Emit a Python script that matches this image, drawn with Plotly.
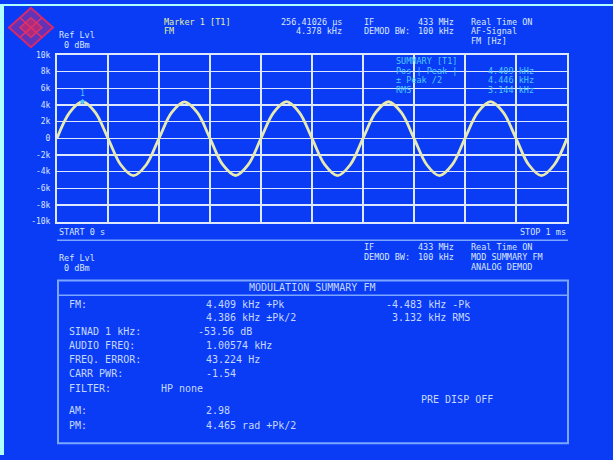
import plotly.graph_objects as go

time_ms = [0.000, 0.025, 0.050, 0.075, 0.100, 0.125, 0.150, 0.175,
           0.200, 0.225, 0.250, 0.275, 0.300, 0.325, 0.350, 0.375,
           0.400, 0.425, 0.450, 0.475, 0.500, 0.525, 0.550, 0.575,
           0.600, 0.625, 0.650, 0.675, 0.700, 0.725, 0.750, 0.775,
           0.800, 0.825, 0.850, 0.875, 0.900, 0.925, 0.950, 0.975, 1.000]
fm_khz = [0.0, 3.12, 4.41, 3.12, 0.0, -3.17, -4.48, -3.17,
          0.0, 3.10, 4.38, 3.10, 0.0, -3.17, -4.46, -3.16,
          0.0, 3.11, 4.40, 3.11, 0.0, -3.16, -4.47, -3.17,
          0.0, 3.10, 4.39, 3.10, 0.0, -3.17, -4.48, -3.16,
          0.0, 3.11, 4.40, 3.11, 0.0, -3.17, -4.47, -3.17, 0.0]
marker_time_ms = [0.05]
marker_fm_khz = [4.41]
marker_labels = ["1"]

y_tick_vals = [10, 8, 6, 4, 2, 0, -2, -4, -6, -8, -10]
y_tick_text = ["10k", "8k", "6k", "4k", "2k", "0", "-2k", "-4k", "-6k", "-8k", "-10k"]

# ---------------- layout helpers ----------------
W, H = 613, 460


def px(x):
    return x / W


def py(y):
    return 1 - y / H


BG = "#0b3cf5"
GRID = "#dde8ff"
TXT = "#d8e6ff"
BOXTXT = "#c4d8ff"
YEL = "#e2f0a0"
CYAN = "#4cc8ff"
BOXLINE = "#7aa6ff"
FONT = "DejaVu Sans Mono"
HS = 8.5   # header font size
BS = 10    # box font size

fig = go.Figure()
fig.add_trace(go.Scatter(
    x=time_ms, y=fm_khz, mode="lines",
    line=dict(color="#e6eab0", width=2.8, shape="spline", smoothing=1.0),
    hoverinfo="skip", showlegend=False))
fig.add_trace(go.Scatter(
    x=marker_time_ms, y=marker_fm_khz, mode="markers+text",
    text=marker_labels, textposition="top center",
    textfont=dict(family=FONT, size=8, color=CYAN),
    marker=dict(symbol="diamond", size=4, color=CYAN),
    hoverinfo="skip", showlegend=False))

texts = [
    # header
    (58, 32, "Ref Lvl", "left", TXT, HS),
    (58, 42, " 0 dBm", "left", TXT, HS),
    (163, 18, "Marker 1 [T1]", "left", YEL, HS),
    (163, 28, "FM", "left", YEL, HS),
    (343, 18, "256.41026 µs", "right", TXT, HS),
    (343, 28, "4.378 kHz", "right", TXT, HS),
    (363, 18, "IF", "left", TXT, HS),
    (363, 28, "DEMOD BW:", "left", TXT, HS),
    (455, 18, "433 MHz", "right", TXT, HS),
    (455, 28, "100 kHz", "right", TXT, HS),
    (470, 18, "Real Time ON", "left", TXT, HS),
    (470, 28, "AF-Signal", "left", TXT, HS),
    (470, 38, "FM [Hz]", "left", TXT, HS),
    # summary inside plot
    (395, 58, "SUMMARY [T1]", "left", CYAN, HS),
    (395, 68, "Pos | Peak |", "left", CYAN, HS),
    (395, 78, "± Peak /2", "left", CYAN, HS),
    (395, 88, "RMS", "left", CYAN, HS),
    (487, 68, "4.409 kHz", "left", CYAN, HS),
    (487, 78, "4.446 kHz", "left", CYAN, HS),
    (487, 88, "3.144 kHz", "left", CYAN, HS),
    # below plot
    (58, 233, "START 0 s", "left", TXT, HS),
    (567, 233, "STOP 1 ms", "right", TXT, HS),
    (58, 259, "Ref Lvl", "left", TXT, HS),
    (58, 269, " 0 dBm", "left", TXT, HS),
    (363, 248, "IF", "left", TXT, HS),
    (363, 258, "DEMOD BW:", "left", TXT, HS),
    (455, 248, "433 MHz", "right", TXT, HS),
    (455, 258, "100 kHz", "right", TXT, HS),
    (470, 248, "Real Time ON", "left", TXT, HS),
    (470, 258, "MOD SUMMARY FM", "left", TXT, HS),
    (470, 268, "ANALOG DEMOD", "left", TXT, HS),
    # modulation summary box
    (312, 289, "MODULATION SUMMARY FM", "center", BOXTXT, BS),
    (68, 306, "FM:", "left", BOXTXT, BS),
    (205, 306, "4.409 kHz +Pk", "left", BOXTXT, BS),
    (385, 306, "-4.483 kHz -Pk", "left", BOXTXT, BS),
    (205, 320, "4.386 kHz ±Pk/2", "left", BOXTXT, BS),
    (391, 320, "3.132 kHz RMS", "left", BOXTXT, BS),
    (68, 334, "SINAD 1 kHz:", "left", BOXTXT, BS),
    (197, 334, "-53.56 dB", "left", BOXTXT, BS),
    (68, 348, "AUDIO FREQ:", "left", BOXTXT, BS),
    (205, 348, "1.00574 kHz", "left", BOXTXT, BS),
    (68, 363, "FREQ. ERROR:", "left", BOXTXT, BS),
    (205, 363, "43.224 Hz", "left", BOXTXT, BS),
    (68, 377, "CARR PWR:", "left", BOXTXT, BS),
    (205, 377, "-1.54", "left", BOXTXT, BS),
    (68, 392, "FILTER:", "left", BOXTXT, BS),
    (160, 392, "HP none", "left", BOXTXT, BS),
    (420, 403, "PRE DISP OFF", "left", BOXTXT, BS),
    (68, 415, "AM:", "left", BOXTXT, BS),
    (205, 415, "2.98", "left", BOXTXT, BS),
    (68, 430, "PM:", "left", BOXTXT, BS),
    (205, 430, "4.465 rad +Pk/2", "left", BOXTXT, BS),
]

annotations = [
    dict(x=px(x), y=py(y), xref="paper", yref="paper", text=t,
         xanchor=a, yanchor="middle", showarrow=False, borderpad=0,
         font=dict(family=FONT, size=s, color=c))
    for (x, y, t, a, c, s) in texts
]

shapes = [
    # light edge strips
    dict(type="rect", xref="paper", yref="paper", x0=0, x1=px(4), y0=0, y1=1,
         fillcolor="#b0ffff", line=dict(width=0), layer="below"),
    dict(type="rect", xref="paper", yref="paper", x0=0, x1=1, y0=py(2), y1=1,
         fillcolor="#b0ffff", line=dict(width=0), layer="below"),
    # line under START/STOP
    dict(type="line", xref="paper", yref="paper", x0=px(57), x1=px(568),
         y0=py(241), y1=py(241), line=dict(color=BOXLINE, width=1.5)),
    # modulation summary box
    dict(type="rect", xref="paper", yref="paper", x0=px(58), x1=px(568),
         y0=py(448), y1=py(282), line=dict(color=BOXLINE, width=2)),
    dict(type="line", xref="paper", yref="paper", x0=px(58), x1=px(568),
         y0=py(297), y1=py(297), line=dict(color=BOXLINE, width=1.5)),
    # logo (diamond)
    dict(type="path", xref="paper", yref="paper",
         path=f"M {px(31)} {py(4)} L {px(53)} {py(24)} L {px(31)} {py(44)} L {px(9)} {py(24)} Z",
         fillcolor="rgba(200,40,110,0.45)", line=dict(color="#d8286a", width=2)),
    dict(type="path", xref="paper", yref="paper",
         path=f"M {px(31)} {py(14)} L {px(42)} {py(24)} L {px(31)} {py(34)} L {px(20)} {py(24)} Z",
         fillcolor="rgba(220,40,90,0.6)", line=dict(color="#e0306a", width=1.5)),
    dict(type="line", xref="paper", yref="paper", x0=px(20), x1=px(42),
         y0=py(14), y1=py(34), line=dict(color="#e0306a", width=1.5)),
    dict(type="line", xref="paper", yref="paper", x0=px(42), x1=px(20),
         y0=py(14), y1=py(34), line=dict(color="#e0306a", width=1.5)),
]

fig.update_layout(
    width=W, height=H,
    margin=dict(l=0, r=0, t=0, b=0),
    paper_bgcolor=BG, plot_bgcolor=BG,
    showlegend=False,
    xaxis=dict(domain=[px(57), px(567)], range=[0, 1], dtick=0.1, tick0=0,
               showgrid=True, gridcolor=GRID, gridwidth=1.5,
               showticklabels=False, ticks="", zeroline=False,
               showline=True, mirror=True, linecolor=GRID, linewidth=2,
               fixedrange=True),
    yaxis=dict(domain=[py(222), py(52)], range=[-10, 10],
               tickvals=y_tick_vals, ticktext=y_tick_text,
               tickfont=dict(family=FONT, size=8, color=TXT),
               showgrid=True, gridcolor=GRID, gridwidth=1.5,
               ticks="", zeroline=False, ticklabelstandoff=3,
               showline=True, mirror=True, linecolor=GRID, linewidth=2,
               fixedrange=True),
    annotations=annotations,
    shapes=shapes,
)

fig.write_html(
    "out.html",
    config={"displayModeBar": False, "staticPlot": True},
    post_script=(
        "document.body.style.margin='0';"
        "document.body.style.overflow='hidden';"
        "document.body.style.background='" + BG + "';"
        "document.documentElement.style.background='" + BG + "';"
    ),
)
